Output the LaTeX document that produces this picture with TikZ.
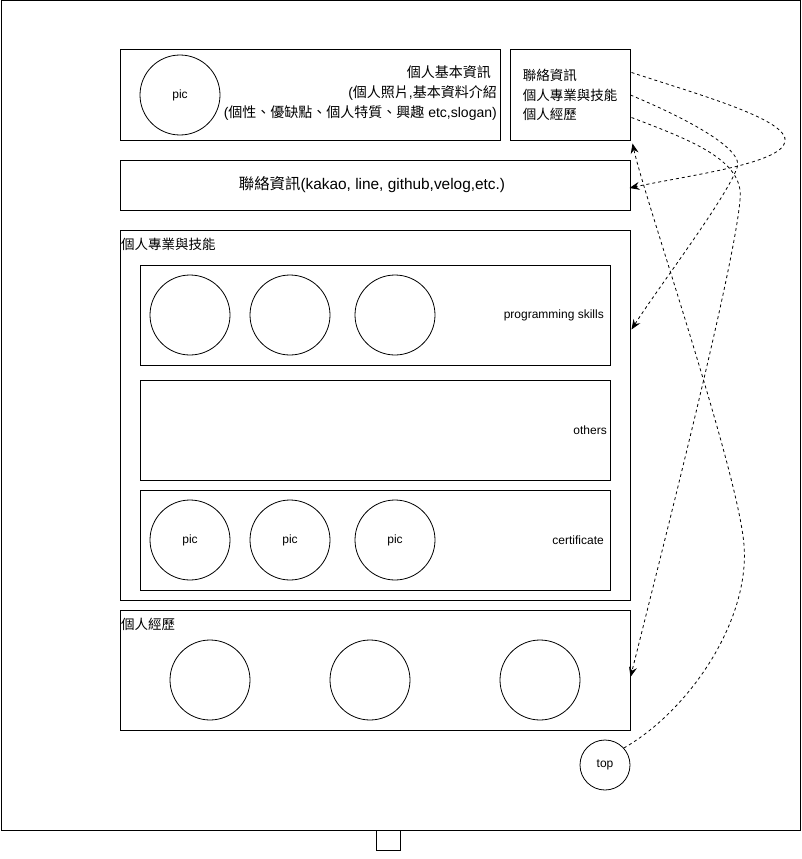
\documentclass[tikz,border=0pt]{standalone}
\usepackage{fontspec}
\setmainfont{Liberation Sans}
\newfontfamily\cjk{Noto Sans CJK TC}
\usetikzlibrary{arrows.meta,calc}
\begin{document}
\begin{tikzpicture}[x=1pt,y=-1pt,
  box/.style={draw,line width=1pt,rectangle,inner sep=0pt},
  circ/.style={draw,line width=0.8pt,circle,minimum size=80pt,inner sep=0pt,font=\fontsize{12pt}{14pt}\selectfont},
  lbl/.style={inner sep=0pt,font=\fontsize{12pt}{14pt}\selectfont},
  link/.style={line width=0.8pt,dash pattern=on 3pt off 3pt,-{Stealth[length=10pt,width=8pt,inset=3.5pt]}}
]
\useasboundingbox (0,0) rectangle (801,859);
% outer frame and small square
\node[box,minimum width=799pt,minimum height=829pt] (outer) at (400.5,415.5) {};
\node[box,minimum width=24pt,minimum height=20pt] (tab) at (388,840) {};
% top row
\node[box,minimum width=380pt,minimum height=90pt] (b1) at (310,95) {};
\node[circ] (p0) at (180,95) {pic};
\node[inner sep=0pt,align=right,anchor=east,font=\fontsize{14pt}{20pt}\selectfont] (t1) at (497,93)
  {{\cjk 個人基本資訊}\hspace*{6pt}\\({\cjk 個人照片},{\cjk 基本資料介紹}\\({\cjk 個性、優缺點、個人特質、興趣} etc,slogan)};
\node[box,minimum width=120pt,minimum height=90pt,align=left,font=\cjk\fontsize{13.5pt}{19.5pt}\selectfont] (b2) at (570,95)
  {聯絡資訊\\個人專業與技能\\個人經歷};
% contact row
\node[box,minimum width=510pt,minimum height=50pt,font=\fontsize{15.4pt}{18pt}\selectfont] (b3) at (375,185)
  {\hspace*{-6pt}{\cjk 聯絡資訊}(kakao, line, github,velog,etc.)};
% skills
\node[box,minimum width=510pt,minimum height=370pt] (b4) at (375,415) {};
\node[inner sep=0pt,anchor=west,font=\cjk\fontsize{13.5pt}{16pt}\selectfont] (t4) at (121,244) {個人專業與技能};
\node[box,minimum width=470pt,minimum height=100pt] (ia) at (375,315) {};
\node[circ] (a1) at (190,315) {};
\node[circ] (a2) at (290,315) {};
\node[circ] (a3) at (395,315) {};
\node[lbl,anchor=east] (la) at (604,315) {programming skills};
\node[box,minimum width=470pt,minimum height=100pt] (ib) at (375,430) {};
\node[lbl,anchor=east] (lb) at (607,430) {others};
\node[box,minimum width=470pt,minimum height=100pt] (ic) at (375,540) {};
\node[circ] (c1) at (190,540) {pic};
\node[circ] (c2) at (290,540) {pic};
\node[circ] (c3) at (395,540) {pic};
\node[lbl,anchor=east] (lc) at (604,540) {certificate};
% experience
\node[box,minimum width=510pt,minimum height=120pt] (b5) at (375,670) {};
\node[inner sep=0pt,anchor=west,font=\cjk\fontsize{13.5pt}{16pt}\selectfont] (t5) at (121,624) {個人經歷};
\node[circ] (d1) at (210,680) {};
\node[circ] (d2) at (370,680) {};
\node[circ] (d3) at (540,680) {};
% top button
\node[circ,minimum size=50pt] (top) at (605,765) {top};
% connector ends
\coordinate (s1) at ($(b2.north east)+(1,23)$);
\coordinate (s3) at ($(b2.north east)+(1,68)$);
\coordinate (e1) at ($(b3.east)+(-1,3)$);
\coordinate (e2) at ($(b4.north east)+(1,100)$);
\coordinate (e3) at ($(b5.east)+(0,7)$);
\coordinate (e4) at ($(b2.south east)+(2,3)$);
% connectors
\draw[link] (s1) .. controls (700,95) and (790,120) .. (785,142) .. controls (780,164) and (690,175) .. (e1);
\draw[link] (b2.east) .. controls (690,120) and (745,150) .. (737,168) .. controls (725,200) and (660,285) .. (e2);
\draw[link] (s3) .. controls (690,140) and (745,160) .. (740,200) .. controls (735,260) and (680,480) .. (e3);
\draw[link] (top.42) .. controls (690,710) and (750,620) .. (744,545) .. controls (738,470) and (645,200) .. (e4);
\end{tikzpicture}
\end{document}
